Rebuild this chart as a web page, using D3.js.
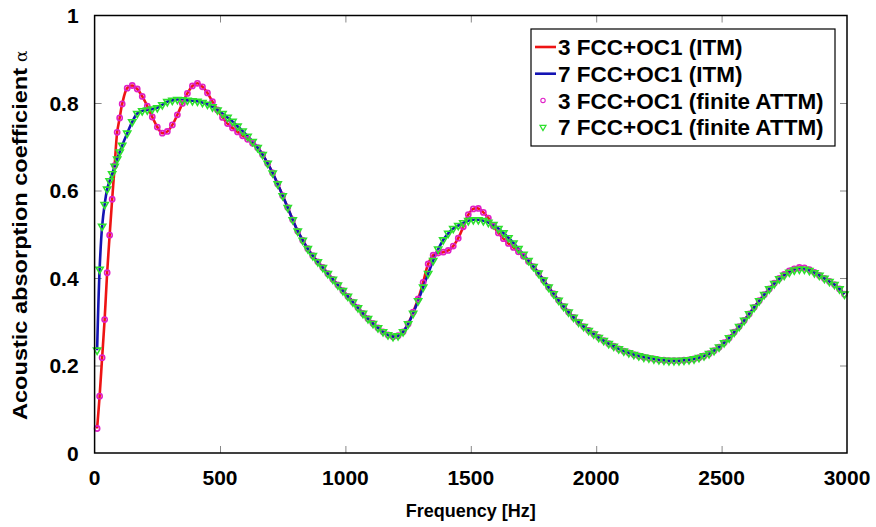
<!DOCTYPE html>
<html>
<head>
<meta charset="utf-8">
<script src="https://cdn.jsdelivr.net/npm/d3@7"></script>
<style>
  body { margin: 0; background: #fff; }
  text { font-family: "Liberation Sans", Arial, sans-serif; font-weight: bold; }
</style>
</head>
<body>
<div id="chart"></div>
<script>
// frequency grid [Hz]
const freq = [
  10, 20, 30, 40, 50, 60, 70, 80, 90, 100,
  110, 130, 150, 170, 190, 210, 230, 250, 270, 290,
  310, 330, 350, 370, 390, 410, 430, 450, 470, 490,
  510, 530, 550, 570, 590, 610, 630, 650, 670, 690,
  710, 730, 750, 770, 790, 810, 830, 850, 870, 890,
  910, 930, 950, 970, 990, 1010, 1030, 1050, 1070, 1090,
  1110, 1130, 1150, 1170, 1190, 1210, 1230, 1250, 1270, 1290,
  1310, 1330, 1350, 1370, 1390, 1410, 1430, 1450, 1470, 1490,
  1510, 1530, 1550, 1570, 1590, 1610, 1630, 1650, 1670, 1690,
  1710, 1730, 1750, 1770, 1790, 1810, 1830, 1850, 1870, 1890,
  1910, 1930, 1950, 1970, 1990, 2010, 2030, 2050, 2070, 2090,
  2110, 2130, 2150, 2170, 2190, 2210, 2230, 2250, 2270, 2290,
  2310, 2330, 2350, 2370, 2390, 2410, 2430, 2450, 2470, 2490,
  2510, 2530, 2550, 2570, 2590, 2610, 2630, 2650, 2670, 2690,
  2710, 2730, 2750, 2770, 2790, 2810, 2830, 2850, 2870, 2890,
  2910, 2930, 2950, 2970, 2990
];

// 3 FCC+OC1
const alpha3 = [
  0.056, 0.13, 0.218, 0.305, 0.412, 0.498, 0.58, 0.657, 0.733, 0.766,
  0.798, 0.834, 0.84, 0.832, 0.815, 0.793, 0.768, 0.745, 0.731, 0.735,
  0.75, 0.773, 0.799, 0.822, 0.839, 0.845, 0.837, 0.823, 0.803, 0.784,
  0.767, 0.753, 0.743, 0.734, 0.725, 0.717, 0.708, 0.698, 0.682, 0.662,
  0.64, 0.615, 0.588, 0.561, 0.533, 0.507, 0.486, 0.467, 0.451, 0.437,
  0.424, 0.41, 0.397, 0.384, 0.371, 0.358, 0.345, 0.332, 0.319, 0.307,
  0.296, 0.286, 0.277, 0.27, 0.266, 0.268, 0.277, 0.295, 0.322, 0.352,
  0.39, 0.432, 0.452, 0.457, 0.459, 0.463, 0.473, 0.491, 0.517, 0.545,
  0.558, 0.559, 0.55, 0.537, 0.519, 0.503, 0.49, 0.479, 0.47, 0.46,
  0.45, 0.438, 0.426, 0.411, 0.395, 0.379, 0.364, 0.349, 0.335, 0.322,
  0.31, 0.299, 0.289, 0.28, 0.272, 0.264, 0.257, 0.25, 0.244, 0.238,
  0.233, 0.229, 0.225, 0.222, 0.219, 0.217, 0.215, 0.213, 0.212, 0.211,
  0.211, 0.211, 0.212, 0.213, 0.215, 0.218, 0.222, 0.227, 0.234, 0.242,
  0.252, 0.263, 0.276, 0.289, 0.303, 0.318, 0.333, 0.348, 0.362, 0.375,
  0.388, 0.399, 0.408, 0.416, 0.421, 0.424, 0.423, 0.419, 0.413, 0.406,
  0.399, 0.392, 0.385, 0.375, 0.363
];

// 7 FCC+OC1
const alpha7 = [
  0.235, 0.42, 0.518, 0.568, 0.603, 0.622, 0.638, 0.655, 0.672, 0.688,
  0.703, 0.731, 0.757, 0.776, 0.782, 0.784, 0.786, 0.789, 0.796, 0.803,
  0.806, 0.808, 0.807, 0.806, 0.805, 0.804, 0.801, 0.797, 0.791, 0.784,
  0.776, 0.767, 0.758, 0.747, 0.736, 0.724, 0.712, 0.698, 0.682, 0.662,
  0.64, 0.615, 0.588, 0.561, 0.533, 0.507, 0.486, 0.467, 0.451, 0.437,
  0.424, 0.41, 0.397, 0.384, 0.371, 0.358, 0.345, 0.332, 0.319, 0.307,
  0.296, 0.286, 0.277, 0.27, 0.266, 0.268, 0.277, 0.295, 0.319, 0.348,
  0.379, 0.41, 0.44, 0.466, 0.487, 0.502, 0.513, 0.52, 0.526, 0.531,
  0.533, 0.533, 0.531, 0.527, 0.522, 0.513, 0.503, 0.492, 0.48, 0.467,
  0.454, 0.44, 0.426, 0.411, 0.395, 0.379, 0.364, 0.349, 0.335, 0.322,
  0.31, 0.299, 0.289, 0.28, 0.272, 0.264, 0.257, 0.25, 0.244, 0.238,
  0.233, 0.229, 0.225, 0.222, 0.219, 0.217, 0.215, 0.213, 0.212, 0.211,
  0.211, 0.211, 0.212, 0.213, 0.215, 0.218, 0.222, 0.227, 0.234, 0.242,
  0.252, 0.263, 0.276, 0.289, 0.303, 0.318, 0.333, 0.348, 0.362, 0.375,
  0.387, 0.398, 0.406, 0.413, 0.418, 0.42, 0.42, 0.417, 0.412, 0.406,
  0.399, 0.392, 0.385, 0.375, 0.363
];

const xTicks = [0, 500, 1000, 1500, 2000, 2500, 3000];
const yTicks = [0, 0.2, 0.4, 0.6, 0.8, 1];
const legendLabels = ["3 FCC+OC1 (ITM)", "7 FCC+OC1 (ITM)",
  "3 FCC+OC1 (finite ATTM)", "7 FCC+OC1 (finite ATTM)"];

const W = 876, H = 527;
const MARGIN = {LEFT: 94.6, RIGHT: 29, TOP: 15.5, BOTTOM: 74};
const width = W - MARGIN.LEFT - MARGIN.RIGHT;
const height = H - MARGIN.TOP - MARGIN.BOTTOM;

const RED = "#ee1414", BLUE = "#1414b4", MAG = "#e020c8", GREEN = "#2ee02e";

const svg = d3.select("#chart").append("svg")
  .attr("width", W).attr("height", H);

const g = svg.append("g")
  .attr("transform", "translate(" + MARGIN.LEFT + "," + MARGIN.TOP + ")");

const x = d3.scaleLinear().domain([0, 3000]).range([0, width]);
const y = d3.scaleLinear().domain([0, 1]).range([height, 0]);

// ticks (inward, all four sides)
const tickLen = 7;
const inner = (sel) => sel.selectAll(".tick line").attr("stroke", "#888");
g.append("g").attr("transform", "translate(0," + height + ")")
  .call(d3.axisBottom(x).tickValues(xTicks.slice(1, -1)).tickSizeInner(-tickLen).tickSizeOuter(0).tickFormat(""))
  .call(inner).select(".domain").remove();
g.append("g")
  .call(d3.axisTop(x).tickValues(xTicks.slice(1, -1)).tickSizeInner(-tickLen).tickSizeOuter(0).tickFormat(""))
  .call(inner).select(".domain").remove();
g.append("g")
  .call(d3.axisLeft(y).tickValues(yTicks.slice(1, -1)).tickSizeInner(-tickLen).tickSizeOuter(0).tickFormat(""))
  .call(inner).select(".domain").remove();
g.append("g").attr("transform", "translate(" + width + ",0)")
  .call(d3.axisRight(y).tickValues(yTicks.slice(1, -1)).tickSizeInner(-tickLen).tickSizeOuter(0).tickFormat(""))
  .call(inner).select(".domain").remove();

// tick labels
g.selectAll(".xlab").data(xTicks).enter().append("text")
  .attr("x", d => x(d)).attr("y", height + 32)
  .attr("text-anchor", "middle").style("font-size", "21px")
  .text(d => d);
g.selectAll(".ylab").data(yTicks).enter().append("text")
  .attr("x", -16).attr("y", d => y(d)).attr("dy", "0.36em")
  .attr("text-anchor", "end").style("font-size", "21px")
  .text(d => String(+d.toFixed(1)));

// axis titles
svg.append("text")
  .attr("x", MARGIN.LEFT + width / 2).attr("y", 517)
  .attr("text-anchor", "middle").style("font-size", "18px")
  .text("Frequency [Hz]");

const yt = svg.append("text")
  .attr("transform", "translate(27,420) rotate(-90)")
  .attr("text-anchor", "start");
yt.append("tspan").style("font-size", "21px")
  .attr("textLength", 352).attr("lengthAdjust", "spacingAndGlyphs")
  .text("Acoustic absorption coefficient");
yt.append("tspan").attr("dx", 6)
  .style("font-family", "'DejaVu Serif', serif").style("font-weight", "normal")
  .style("font-size", "17px").text("α");

// data
const pts3 = freq.map((f, i) => ({f: f, a: alpha3[i]}));
const pts7 = freq.map((f, i) => ({f: f, a: alpha7[i]}));

const line = d3.line().x(d => x(d.f)).y(d => y(d.a)).curve(d3.curveCatmullRom);

const plot = g.append("g");
plot.append("path").datum(pts3).attr("d", line)
  .attr("fill", "none").attr("stroke", RED).attr("stroke-width", 2.6);
plot.append("path").datum(pts7).attr("d", line)
  .attr("fill", "none").attr("stroke", BLUE).attr("stroke-width", 2.6);

plot.selectAll(".c3").data(pts3).enter().append("circle")
  .attr("cx", d => x(d.f)).attr("cy", d => y(d.a)).attr("r", 2.6)
  .attr("fill", "none").attr("stroke", MAG).attr("stroke-width", 1.6);

const tri = d3.symbol().type(d3.symbolTriangle).size(22);
plot.selectAll(".t7").data(pts7).enter().append("path")
  .attr("d", tri)
  .attr("transform", d => "translate(" + x(d.f) + "," + y(d.a) + ") rotate(180)")
  .attr("fill", "none").attr("stroke", GREEN).attr("stroke-width", 1.6);

// frame
g.append("rect").attr("width", width).attr("height", height)
  .attr("fill", "none").attr("stroke", "#000").attr("stroke-width", 1.5);

// legend
const lg = svg.append("g").attr("transform", "translate(531,29)");
lg.append("rect").attr("width", 304).attr("height", 117)
  .attr("fill", "#fff").attr("stroke", "#000").attr("stroke-width", 1.2);
const rowY = (i) => 18 + i * 26.7;
lg.selectAll(".lt").data(legendLabels).enter().append("text")
  .attr("x", 27).attr("y", (d, i) => rowY(i)).attr("dy", "0.36em")
  .style("font-size", "22.5px").text(d => d);
[RED, BLUE].forEach((c, i) => {
  lg.append("line").attr("x1", 4).attr("x2", 25)
    .attr("y1", rowY(i)).attr("y2", rowY(i))
    .attr("stroke", c).attr("stroke-width", 2.6);
});
lg.append("circle").attr("cx", 12).attr("cy", rowY(2)).attr("r", 2.2)
  .attr("fill", "none").attr("stroke", MAG).attr("stroke-width", 1.1);
lg.append("path").attr("d", d3.symbol().type(d3.symbolTriangle).size(16))
  .attr("transform", "translate(12," + rowY(3) + ") rotate(180)")
  .attr("fill", "none").attr("stroke", GREEN).attr("stroke-width", 1.2);
</script>
</body>
</html>
